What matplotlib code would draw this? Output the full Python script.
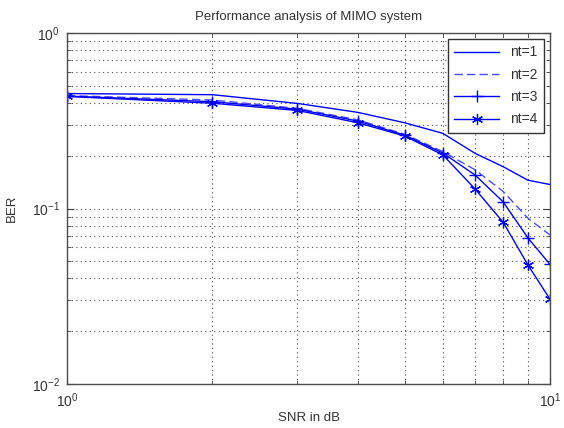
import matplotlib
matplotlib.use("Agg")
import matplotlib.pyplot as plt
from matplotlib.ticker import LogLocator, NullFormatter

plt.rcParams['font.family'] = ['Liberation Sans', 'DejaVu Sans']
plt.rcParams['mathtext.default'] = 'regular'

snr = [1, 2, 3, 4, 5, 6, 7, 8, 9, 10]
ber_nt1 = [0.452, 0.445, 0.397, 0.353, 0.308, 0.268, 0.206, 0.173, 0.145, 0.137]
ber_nt2 = [0.440, 0.415, 0.372, 0.320, 0.265, 0.211, 0.166, 0.125, 0.088, 0.0706]
ber_nt3 = [0.437, 0.406, 0.368, 0.315, 0.262, 0.207, 0.155, 0.109, 0.068, 0.048]
ber_nt4 = [0.435, 0.398, 0.362, 0.308, 0.259, 0.202, 0.129, 0.0834, 0.0477, 0.0304]
labels = ['nt=1', 'nt=2', 'nt=3', 'nt=4']

fig = plt.figure(figsize=(5.64, 4.28), dpi=100)
ax = fig.add_axes([0.1188, 0.1028, 0.8564, 0.8201])

blue = '#0000ff'
ax.loglog(snr, ber_nt1, '-', color=blue, lw=1.0, label=labels[0])
ax.loglog(snr, ber_nt2, '--', color='#4a4aff', lw=1.0, label=labels[1], dashes=(6, 3))
ax.loglog(snr, ber_nt3, '-', color=blue, lw=1.0, marker='+', ms=9, mew=1.0, label=labels[2])
ax.loglog(snr, ber_nt4, '-', color=blue, lw=1.0, marker=(6, 2, 0), ms=8, mew=0.9, label=labels[3])

ax.set_xlim(1, 10)
ax.set_ylim(0.01, 1)

ax.xaxis.set_minor_locator(LogLocator(base=10, subs=range(2, 10)))
ax.yaxis.set_minor_locator(LogLocator(base=10, subs=range(2, 10)))
ax.xaxis.set_minor_formatter(NullFormatter())
ax.yaxis.set_minor_formatter(NullFormatter())

for which in ('major', 'minor'):
    ax.grid(True, which=which, linestyle=(0, (1, 3)), color='0.3', lw=0.8)

ax.tick_params(which='both', direction='in', top=True, right=True, colors='0.25',
               labelcolor='0.2', labelsize=10)
ax.tick_params(which='major', length=5, pad=5)
ax.tick_params(which='minor', length=3)
for s in ax.spines.values():
    s.set_color('0.3')
    s.set_linewidth(1.0)

ax.set_title('Performance analysis of MIMO system', fontsize=9.5, color='0.2', pad=9)
ax.set_xlabel('SNR in dB', fontsize=9.5, color='0.2', labelpad=2)
ax.set_ylabel('BER', fontsize=9.5, color='0.2', labelpad=10)

leg = ax.legend(loc='upper right', fancybox=False, framealpha=1, edgecolor='0.2',
                fontsize=10, handlelength=3.2, borderaxespad=0.4,
                labelspacing=0.6, borderpad=0.5)
leg.get_frame().set_linewidth(1.0)
for t in leg.get_texts():
    t.set_color('0.2')

fig.savefig('out.png', dpi=100)
